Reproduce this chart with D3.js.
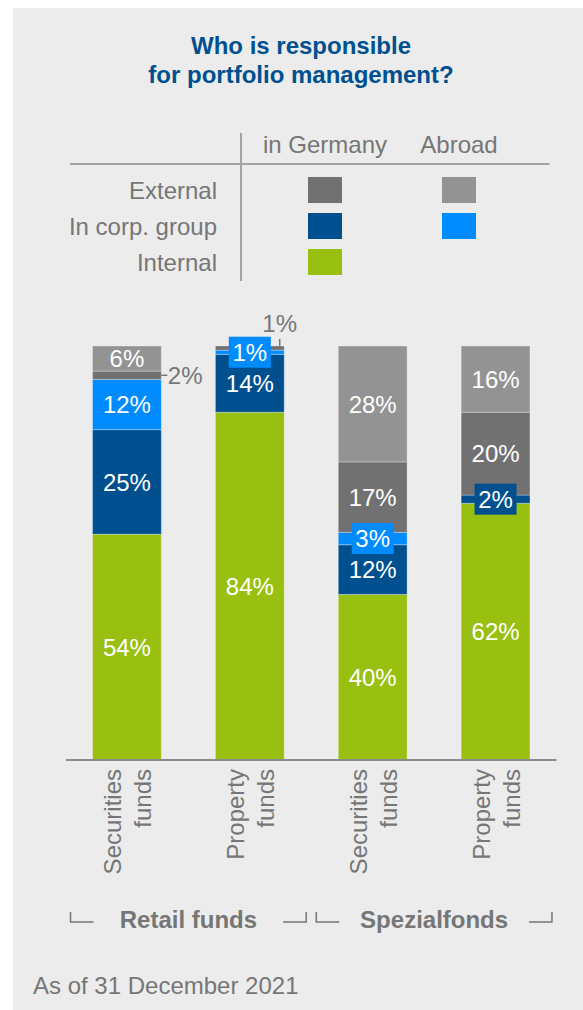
<!DOCTYPE html>
<html>
<head>
<meta charset="utf-8">
<script src="https://cdn.jsdelivr.net/npm/d3@7"></script>
<style>
    body { margin: 0; background: #ffffff; }
    svg text { font-family: Arial, "Liberation Sans", sans-serif; }
</style>
</head>
<body>
<svg id="drawing_region"></svg>
<script>
// data (percent)
const bars = ['retailSec', 'retailProp', 'spezSec', 'spezProp'];
const barLabels = [['Securities', 'funds'], ['Property', 'funds'], ['Securities', 'funds'], ['Property', 'funds']];
const groups = ['Retail funds', 'Spezialfonds'];
const groupOfBar = [0, 0, 1, 1];

const internal    = [54, 84, 40, 62];
const corpGermany = [25, 14, 12, 2];
const corpAbroad  = [12, 1, 3, 0];
const extGermany  = [2, 1, 17, 20];
const extAbroad   = [6, 0, 28, 16];

const legendRows = ['External', 'In corp. group', 'Internal'];
const legendCols = ['in Germany', 'Abroad'];

const title = ['Who is responsible', 'for portfolio management?'];
const footnote = 'As of 31 December 2021';

const keys = ['internal', 'corpGermany', 'corpAbroad', 'extGermany', 'extAbroad'];
const colors = {
    internal: '#99c010',
    corpGermany: '#00508f',
    corpAbroad: '#008cff',
    extGermany: '#717171',
    extAbroad: '#939393'
};
// legend cell of each series: [row, column]
const legendCell = {
    extGermany: [0, 0], extAbroad: [0, 1],
    corpGermany: [1, 0], corpAbroad: [1, 1],
    internal: [2, 0]
};

const series = { internal, corpGermany, corpAbroad, extGermany, extAbroad };
const table = bars.map((b, i) => {
    const row = { bar: b };
    keys.forEach(k => row[k] = series[k][i]);
    return row;
});

const W = 583, H = 1010;
const textGray = '#767676';
const fs = 24;

const svg = d3.select('#drawing_region')
    .attr('width', W)
    .attr('height', H);

svg.append('rect')
    .attr('x', 13).attr('y', 8)
    .attr('width', W - 13).attr('height', H - 8)
    .attr('fill', '#ececec');

// title
svg.append('text')
    .attr('x', 301).attr('y', 54)
    .attr('text-anchor', 'middle')
    .attr('font-size', fs).attr('font-weight', 'bold')
    .attr('fill', '#00508f')
    .selectAll('tspan')
    .data(title)
    .join('tspan')
    .attr('x', 301)
    .attr('dy', (d, i) => i === 0 ? 0 : 28.5)
    .text(d => d);

// legend table
const colX = d3.scalePoint().domain(legendCols).range([325, 459]);
const rowY = d3.scalePoint().domain(legendRows).range([190, 262]);
const legend = svg.append('g');

legend.append('line')
    .attr('x1', 70).attr('x2', 549.5)
    .attr('y1', 164).attr('y2', 164)
    .attr('stroke', '#a3a3a3').attr('stroke-width', 2);
legend.append('line')
    .attr('x1', 241).attr('x2', 241)
    .attr('y1', 133).attr('y2', 281)
    .attr('stroke', '#a3a3a3').attr('stroke-width', 2);

legend.selectAll('.col')
    .data(legendCols)
    .join('text')
    .attr('class', 'col')
    .attr('x', d => colX(d)).attr('y', 153)
    .attr('text-anchor', 'middle')
    .attr('font-size', fs).attr('fill', textGray)
    .text(d => d);

legend.selectAll('.row')
    .data(legendRows)
    .join('text')
    .attr('class', 'row')
    .attr('x', 217).attr('y', d => rowY(d))
    .attr('dy', '0.36em')
    .attr('text-anchor', 'end')
    .attr('font-size', fs).attr('fill', textGray)
    .text(d => d);

legend.selectAll('.swatch')
    .data(keys)
    .join('rect')
    .attr('class', 'swatch')
    .attr('x', k => colX(legendCols[legendCell[k][1]]) - 17)
    .attr('y', k => rowY(legendRows[legendCell[k][0]]) - 13)
    .attr('width', 34).attr('height', 26)
    .attr('fill', k => colors[k]);

// bars
const xscale = d3.scaleBand()
    .domain(bars)
    .range([65.5, 557])
    .paddingInner(0.44)
    .paddingOuter(0.22);
const yscale = d3.scaleLinear().domain([0, 1]).range([760, 346]);

const stacked = d3.stack().keys(keys).offset(d3.stackOffsetExpand)(table);

const chart = svg.append('g');
chart.selectAll('g.layer')
    .data(stacked)
    .join('g')
    .attr('class', 'layer')
    .attr('fill', s => colors[s.key])
    .selectAll('rect')
    .data(s => s)
    .join('rect')
    .attr('x', d => xscale(d.data.bar))
    .attr('y', d => yscale(d[1]))
    .attr('width', xscale.bandwidth())
    .attr('height', d => yscale(d[0]) - yscale(d[1]))
    .attr('stroke', 'rgba(255,255,255,0.3)')
    .attr('stroke-width', 1);

// value labels
const labels = [];
stacked.forEach((s, si) => {
    s.forEach((d, i) => {
        const v = d.data[s.key];
        if (v === 0) return;
        const top = yscale(d[1]), bottom = yscale(d[0]);
        const above = keys.slice(si + 1).every(k => d.data[k] === 0);
        let mode = 'inside';
        if (s.key === 'extGermany' && v < 4) mode = above ? 'above' : 'right';
        else if (bottom - top < 20) mode = 'box';
        labels.push({ key: s.key, v, i, bar: d.data.bar, top, mid: (top + bottom) / 2, mode });
    });
});

const cx = b => xscale(b) + xscale.bandwidth() / 2;

chart.selectAll('rect.box')
    .data(labels.filter(l => l.mode === 'box'))
    .join('rect')
    .attr('class', 'box')
    .attr('x', l => cx(l.bar) - 21)
    .attr('y', l => l.mid - 15.5)
    .attr('width', 42).attr('height', 31)
    .attr('fill', l => colors[l.key]);

chart.selectAll('line.lead')
    .data(labels.filter(l => l.mode === 'right' || l.mode === 'above'))
    .join('line')
    .attr('class', 'lead')
    .attr('x1', l => l.mode === 'right' ? xscale(l.bar) + xscale.bandwidth() : xscale(l.bar) + xscale.bandwidth() - 4.5)
    .attr('x2', l => l.mode === 'right' ? xscale(l.bar) + xscale.bandwidth() + 6 : xscale(l.bar) + xscale.bandwidth() - 4.5)
    .attr('y1', l => l.mode === 'right' ? l.mid : l.top)
    .attr('y2', l => l.mode === 'right' ? l.mid : l.top - 7)
    .attr('stroke', textGray).attr('stroke-width', 1.5);

chart.selectAll('text.val')
    .data(labels)
    .join('text')
    .attr('class', 'val')
    .attr('font-size', fs)
    .attr('fill', l => (l.mode === 'right' || l.mode === 'above') ? textGray : '#ffffff')
    .attr('text-anchor', l => l.mode === 'right' ? 'start' : 'middle')
    .attr('x', l => {
        if (l.mode === 'right') return xscale(l.bar) + xscale.bandwidth() + 6.5;
        if (l.mode === 'above') return xscale(l.bar) + xscale.bandwidth() - 4.5;
        return cx(l.bar);
    })
    .attr('y', l => l.mode === 'above' ? l.top - 14 : l.mid)
    .attr('dy', l => l.mode === 'above' ? 0 : '0.36em')
    .text(l => l.v + '%');

// x axis
svg.append('line')
    .attr('x1', 66).attr('x2', 556.5)
    .attr('y1', 760).attr('y2', 760)
    .attr('stroke', '#8c8c8c').attr('stroke-width', 2);

const cats = svg.selectAll('g.cat')
    .data(bars)
    .join('g')
    .attr('class', 'cat')
    .attr('transform', b => `translate(${cx(b)}, 769) rotate(-90)`);
cats.append('text')
    .attr('text-anchor', 'end')
    .attr('font-size', fs).attr('fill', textGray)
    .selectAll('tspan')
    .data((b, i) => barLabels[i])
    .join('tspan')
    .attr('x', 0)
    .attr('y', (d, j) => j === 0 ? -6 : 24.5)
    .text(d => d);

// group brackets
const groupSpan = groups.map((g, gi) => {
    const members = bars.filter((b, i) => groupOfBar[i] === gi);
    return {
        name: g,
        x0: xscale(members[0]) - 22,
        x1: xscale(members[members.length - 1]) + xscale.bandwidth() + 22
    };
});
const gg = svg.selectAll('g.grp')
    .data(groupSpan)
    .join('g')
    .attr('class', 'grp');
gg.append('path')
    .attr('d', g => `M${g.x0},912V922H${g.x0 + 23}`)
    .attr('fill', 'none').attr('stroke', textGray).attr('stroke-width', 1.5);
gg.append('path')
    .attr('d', g => `M${g.x1 - 23},922H${g.x1}V912`)
    .attr('fill', 'none').attr('stroke', textGray).attr('stroke-width', 1.5);
gg.append('text')
    .attr('x', g => (g.x0 + g.x1) / 2)
    .attr('y', 928)
    .attr('text-anchor', 'middle')
    .attr('font-size', fs).attr('font-weight', 'bold')
    .attr('fill', textGray)
    .text(g => g.name);

// footnote
svg.append('text')
    .attr('x', 33).attr('y', 994)
    .attr('font-size', fs).attr('fill', textGray)
    .text(footnote);
</script>
</body>
</html>
